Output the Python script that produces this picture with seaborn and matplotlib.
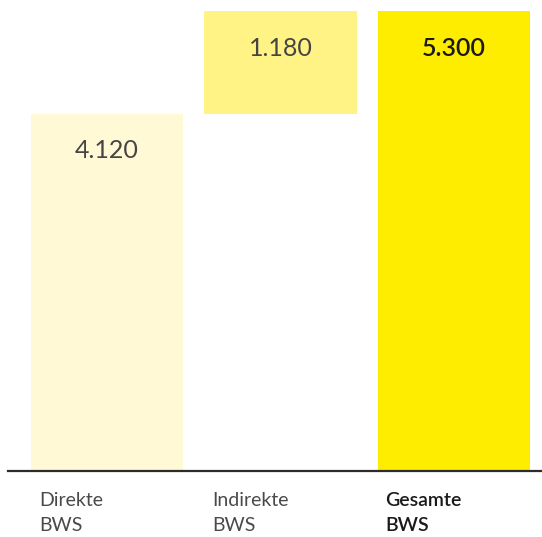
import matplotlib
matplotlib.use("Agg")
import matplotlib.pyplot as plt
import matplotlib.transforms as mtransforms
import seaborn as sns
import pandas as pd

# Bruttowertschöpfung: direkt, indirekt, gesamt
categories = ["Direkte\nBWS", "Indirekte\nBWS", "Gesamte\nBWS"]
values = [4120, 1180, 5300]
value_labels = ["4.120", "1.180", "5.300"]
bar_colors = ["#FFF9D6", "#FFF385", "#FFED00"]

# floating waterfall: base of each bar
bases = [0, values[0], 0]
tops = [b + v for b, v in zip(bases, values)]

sns.set_theme(style="white")
plt.rcParams["font.family"] = ["Lato", "DejaVu Sans"]

df = pd.DataFrame({"cat": categories, "top": tops, "base": bases})

fig = plt.figure(figsize=(5.42, 5.37), dpi=100)
ax = fig.add_axes([8 / 542, 66 / 537, 1 - 8 / 542, 1 - 66 / 537])

width = 0.88
sns.barplot(data=df, x="cat", y="top", hue="cat", palette=bar_colors,
            width=width, legend=False, ax=ax, saturation=1, linewidth=0)
# cover the lower part of the floating bar
sns.barplot(data=df, x="cat", y="base", color="white",
            width=width + 0.01, ax=ax, saturation=1, linewidth=0)

ax.set_xlim(-0.572, 2.509)
ax.set_ylim(0, 5430)
ax.set_xlabel("")
ax.set_ylabel("")
ax.set_xticks([])
ax.set_yticks([])
for side in ["top", "left", "right"]:
    ax.spines[side].set_visible(False)
ax.spines["bottom"].set_color("#2b2b2b")
ax.spines["bottom"].set_linewidth(1.6)

# value labels inside the bars, a fixed distance below the top edge
for i, (top, lab) in enumerate(zip(tops, value_labels)):
    bold = i == 2
    off = mtransforms.offset_copy(ax.transData, fig=fig, x=0, y=-37, units="dots")
    ax.text(i, top, lab, transform=off, ha="center", va="center",
            fontsize=18, fontweight="semibold" if bold else "normal",
            color="#1a1a1a" if bold else "#454545")

# category labels below the axis, left-aligned with the bars
for i, cat in enumerate(categories):
    bold = i == 2
    trans = mtransforms.blended_transform_factory(ax.transData, ax.transAxes)
    off = mtransforms.offset_copy(trans, fig=fig, x=8, y=-21, units="dots")
    ax.text(i - width / 2, 0, cat, transform=off, ha="left", va="top",
            fontsize=14, linespacing=1.6,
            fontweight="semibold" if bold else "normal",
            color="#1a1a1a" if bold else "#4a4a4a")

fig.savefig("out.png", dpi=100)
